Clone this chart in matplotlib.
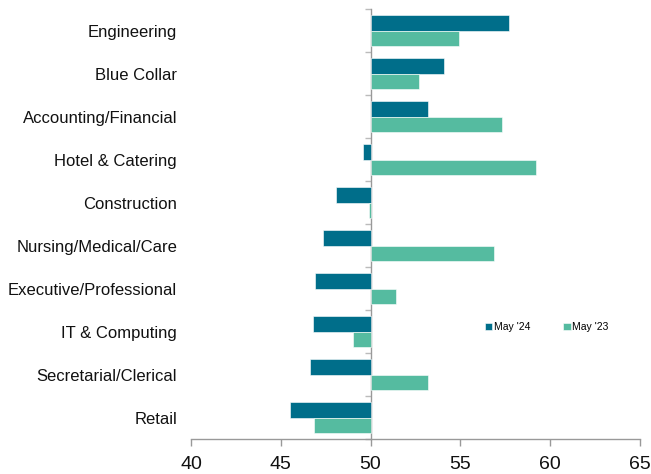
import matplotlib.pyplot as plt
import numpy as np

plt.rcParams['font.family'] = ['Liberation Sans', 'DejaVu Sans']

# categories, top to bottom
categories = ['Engineering', 'Blue Collar', 'Accounting/Financial', 'Hotel & Catering',
              'Construction', 'Nursing/Medical/Care', 'Executive/Professional',
              'IT & Computing', 'Secretarial/Clerical', 'Retail']
may_24 = [57.7, 54.1, 53.2, 49.6, 48.1, 47.35, 46.9, 46.8, 46.6, 45.5]
may_23 = [54.9, 52.7, 57.3, 59.2, 49.9, 56.9, 51.4, 49.0, 53.2, 46.85]
series_names = ["May '24", "May '23"]
colors = ['#006E8A', '#55BBA0']
base = 50

fig = plt.figure(figsize=(6.51, 4.74), dpi=100)
ax = fig.add_axes([0.2934, 0.0738, 0.6896, 0.9072])

n = len(categories)
y = np.arange(n)[::-1].astype(float)
h = 0.355
d24 = np.array(may_24) - base
d23 = np.array(may_23) - base
ax.barh(y + h / 2, d24, height=h, left=base, color=colors[0],
        edgecolor='white', linewidth=0.4, label=series_names[0])
ax.barh(y - h / 2, d23, height=h, left=base, color=colors[1],
        edgecolor='white', linewidth=0.4, label=series_names[1])

ax.set_xlim(40, 65)
ax.set_ylim(-0.5, n - 0.5)
ax.set_xticks([40, 45, 50, 55, 60, 65])
ax.set_yticks(y)
ax.set_yticklabels(categories, fontsize=12, color='#111111')
ax.tick_params(axis='y', length=0, pad=10)
ax.tick_params(axis='x', labelsize=14, length=5, width=1, color='#999999',
               labelcolor='#111111', pad=7)

for s in ['top', 'right', 'left']:
    ax.spines[s].set_visible(False)
ax.spines['bottom'].set_color('#999999')
ax.spines['bottom'].set_linewidth(1)

# vertical axis line at 50 with boundary ticks
sec = ax.secondary_yaxis((base - 40) / 25)
sec.set_yticks(np.arange(-0.5, n, 1.0))
sec.set_yticklabels([])
sec.spines['left'].set_color('#999999')
sec.spines['left'].set_linewidth(1)
sec.tick_params(axis='y', direction='out', length=4, width=1, color='#bbbbbb')

ax.legend(loc='center', bbox_to_anchor=(0.792, 0.26), ncol=2, frameon=False,
          fontsize=7.5, handlelength=0.75, handleheight=0.75, handletextpad=0.15,
          columnspacing=3.1)

fig.savefig('out.png', dpi=100)
